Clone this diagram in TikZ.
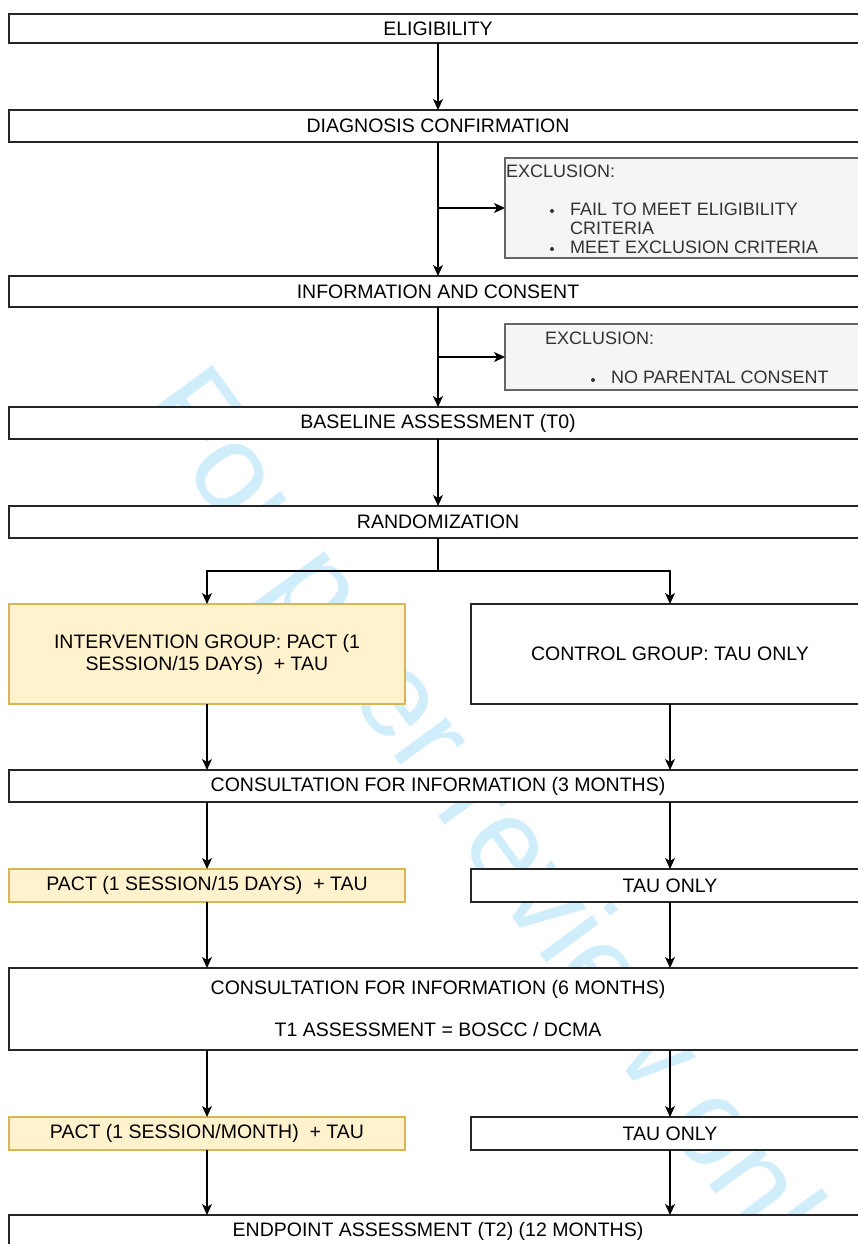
\documentclass[tikz,border=0pt]{standalone}
\usepackage{fontspec}
\setmainfont{Liberation Sans}
\usetikzlibrary{arrows.meta}
\definecolor{wmblue}{RGB}{208,237,251}
\definecolor{yfill}{HTML}{FFF2CC}
\definecolor{ydraw}{HTML}{D6B656}
\definecolor{gfill}{HTML}{F5F5F5}
\definecolor{gdraw}{HTML}{666666}
\definecolor{gtext}{HTML}{333333}
\tikzset{
  box/.style={draw=black!85, line width=1.4pt, fill=white, rectangle, anchor=north west,
    inner sep=0pt, outer sep=0pt, align=center, font=\fontsize{19.5}{22}\selectfont},
  fullbox/.style={box, minimum width=858pt},
  halfbox/.style={box, minimum width=396pt},
  rbox/.style={box, minimum width=398pt},
  ybox/.style={fill=yfill, draw=ydraw},
  exbox/.style={draw=gdraw, line width=1.4pt, fill=gfill, rectangle, anchor=north west, inner sep=0pt, outer sep=0pt, minimum width=365pt},
  extext/.style={anchor=west, inner sep=0pt, text=gtext, font=\fontsize{18}{21}\selectfont},
  bul/.style={circle, fill=gtext, inner sep=0pt, minimum size=4pt},
  arr/.style={line width=1.4pt, draw=black, -{Stealth[length=11pt,width=10pt,inset=3pt]}},
  ln/.style={line width=1.4pt, draw=black},
}
\begin{document}
\begin{tikzpicture}[x=1pt,y=-1pt]
\useasboundingbox (0,0) rectangle (858,1244);
\clip (0,0) rectangle (858,1244);
\fill[white] (0,0) rectangle (858,1244);
% watermark
\node[rotate=-53.7, inner sep=0pt, text=wmblue, font=\fontsize{123}{130}\selectfont] (wm) at (494,838) {For peer review only};

% main boxes
\node[fullbox, minimum height=29pt] (elig) at (9,14) {ELIGIBILITY};
\node[fullbox, minimum height=32pt] (diag) at (9,110) {DIAGNOSIS CONFIRMATION};
\node[exbox, minimum height=100pt] (ex1) at (505,158) {};
\node[fullbox, minimum height=31pt] (info) at (9,276) {INFORMATION AND CONSENT};
\node[exbox, minimum height=66pt] (ex2) at (505,324) {};
\node[fullbox, minimum height=32pt] (base) at (9,407) {BASELINE ASSESSMENT (T0)};
\node[fullbox, minimum height=32pt] (rand) at (9,506) {RANDOMIZATION};
\node[halfbox, ybox, minimum height=100pt] (interv) at (9,604) {INTERVENTION GROUP: PACT (1\\SESSION/15 DAYS)\ \ + TAU};
\node[rbox, minimum height=100pt] (ctrl) at (471,604) {CONTROL GROUP: TAU ONLY};
\node[fullbox, minimum height=32pt] (cons3) at (9,770) {CONSULTATION FOR INFORMATION (3 MONTHS)};
\node[halfbox, ybox, minimum height=33pt] (pact1) at (9,869) {PACT (1 SESSION/15 DAYS)\ \ + TAU};
\node[rbox, minimum height=33pt] (tau1) at (471,869) {TAU ONLY};
\node[fullbox, minimum height=82pt] (cons6) at (9,968) {CONSULTATION FOR INFORMATION (6 MONTHS)\\[20pt]T1 ASSESSMENT = BOSCC / DCMA};
\node[halfbox, ybox, minimum height=33pt] (pact2) at (9,1117) {PACT (1 SESSION/MONTH)\ \ + TAU};
\node[rbox, minimum height=33pt] (tau2) at (471,1117) {TAU ONLY};
\node[fullbox, minimum height=32pt] (endp) at (9,1215) {ENDPOINT ASSESSMENT (T2) (12 MONTHS)};

% exclusion texts
\node[extext] (ex1h) at (506,171) {EXCLUSION:};
\node[bul] (b1) at (552,211) {};
\node[extext] (ex1a) at (570,209) {FAIL TO MEET ELIGIBILITY};
\node[extext] (ex1b) at (570,228) {CRITERIA};
\node[bul] (b2) at (552,249) {};
\node[extext] (ex1c) at (570,247) {MEET EXCLUSION CRITERIA};
\node[extext] (ex2h) at (545,338) {EXCLUSION:};
\node[bul] (b3) at (593,380) {};
\node[extext] (ex2a) at (611,377) {NO PARENTAL CONSENT};

% connectors
\draw[arr] (elig) -- (diag);
\draw[arr] (diag) -- (info);
\coordinate (j1) at (438,208);
\draw[arr] (j1) -- (ex1);
\draw[arr] (info) -- (base);
\coordinate (j2) at (438,357);
\draw[arr] (j2) -- (ex2);
\draw[arr] (base) -- (rand);
\coordinate (split) at (438,571);
\draw[ln] (rand.south) -- (split);
\draw[arr] (split) -| (interv.north);
\draw[arr] (split) -| (ctrl.north);
\draw[arr] (interv) -- (interv |- cons3.north);
\draw[arr] (ctrl) -- (ctrl |- cons3.north);
\draw[arr] (pact1 |- cons3.south) -- (pact1);
\draw[arr] (tau1 |- cons3.south) -- (tau1);
\draw[arr] (pact1) -- (pact1 |- cons6.north);
\draw[arr] (tau1) -- (tau1 |- cons6.north);
\draw[arr] (pact2 |- cons6.south) -- (pact2);
\draw[arr] (tau2 |- cons6.south) -- (tau2);
\draw[arr] (pact2) -- (pact2 |- endp.north);
\draw[arr] (tau2) -- (tau2 |- endp.north);
\end{tikzpicture}
\end{document}
